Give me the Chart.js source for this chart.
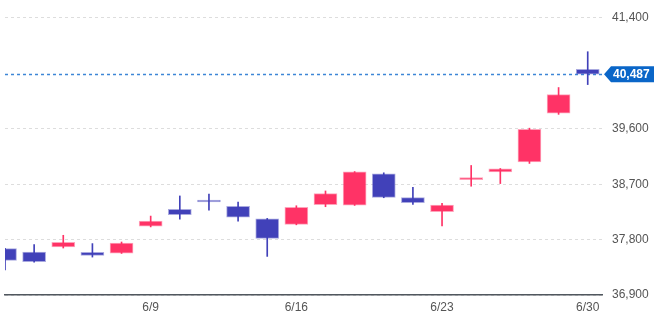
<!DOCTYPE html>
<html>
<head>
<meta charset="utf-8">
<script src="https://cdn.jsdelivr.net/npm/chart.js@4"></script>
<style>
  html, body { margin: 0; padding: 0; background: #fff; }
  #wrap { width: 662px; height: 316px; }
</style>
</head>
<body>
<div id="wrap"><canvas id="grafico"></canvas></div>
<script>
// datos diarios (junio)
const fechas = ["6/2","6/3","6/4","6/5","6/6","6/9","6/10","6/11","6/12","6/13","6/16","6/17","6/18","6/19","6/20","6/23","6/24","6/25","6/26","6/27","6/30"];
const aperturas = [37653,37597,37679,37592,37581,38018,38291,38443,38340,38137,38046,38366,38361,38869,38481,38252,38775,38901,39060,39855,40564];
const maximos  = [37660,37718,37870,37735,37761,38182,38509,38541,38410,38144,38350,38590,38905,38885,38651,38389,39004,38955,39610,40270,40852];
const minimos  = [37309,37435,37663,37516,37575,38006,38132,38280,38100,37527,38040,38334,38355,38480,38373,38023,38667,38710,39037,39834,40318];
const cierres  = [37462,37440,37756,37543,37745,38100,38203,38410,38165,37821,38324,38546,38901,38487,38399,38361,38803,38950,39593,40156,40487];
const ticksY = [36900, 37800, 38700, 39600, 41400];
const ticksX = [5, 10, 15, 20];

const ultimo = cierres[cierres.length - 1];
const ROJO = "#ff3366", AZUL = "#4141b9";
const colores = cierres.map((c, i) => c >= aperturas[i] ? ROJO : AZUL);
const bordes = cierres.map((c, i) => c >= aperturas[i] ? "rgba(255,51,102,0.45)" : "rgba(65,65,185,0.45)");

const cuerpos = fechas.map((f, i) => ({ x: i, y: [aperturas[i], cierres[i]] }));
const mechas = fechas.map((f, i) => ({ x: i, y: [minimos[i], maximos[i]] }));

// linea del ultimo precio + etiqueta
const lineaPrecio = {
  id: "lineaPrecio",
  beforeDatasetsDraw(chart) {
    const { ctx, chartArea, scales } = chart;
    const y = Math.round(scales.y.getPixelForValue(ultimo)) + 0.5;
    ctx.save();
    ctx.strokeStyle = "#3d86d6";
    ctx.lineWidth = 1.5;
    ctx.setLineDash([3, 3]);
    ctx.beginPath();
    ctx.moveTo(chartArea.left, y);
    ctx.lineTo(chartArea.right, y);
    ctx.stroke();
    ctx.restore();
  },
  afterDraw(chart) {
    const { ctx, chartArea, scales } = chart;
    const y = scales.y.getPixelForValue(ultimo);
    const x0 = chartArea.right + 2;
    ctx.save();
    ctx.fillStyle = "#0a66c8";
    ctx.beginPath();
    ctx.moveTo(x0, y);
    ctx.lineTo(x0 + 7, y - 8);
    ctx.lineTo(654, y - 8);
    ctx.lineTo(654, y + 8);
    ctx.lineTo(x0 + 7, y + 8);
    ctx.closePath();
    ctx.fill();
    ctx.fillStyle = "#fff";
    ctx.font = "bold 12px 'Liberation Sans', Arial, sans-serif";
    ctx.textAlign = "left";
    ctx.textBaseline = "middle";
    ctx.fillText(ultimo.toLocaleString("en-US"), 613, y + 0.5);
    ctx.restore();
  }
};

new Chart(document.getElementById("grafico"), {
  type: "bar",
  data: {
    datasets: [
      {
        data: cuerpos,
        backgroundColor: colores,
        borderColor: bordes,
        borderWidth: 1,
        borderSkipped: false,
        barThickness: 23,
        minBarLength: 2,
        grouped: false,
        order: 0
      },
      {
        data: mechas,
        backgroundColor: colores,
        borderWidth: 0,
        barThickness: 1,
        grouped: false,
        order: 1
      }
    ]
  },
  options: {
    responsive: true,
    maintainAspectRatio: false,
    animation: false,
    layout: { padding: { left: 5, top: 0, right: 0, bottom: 0 } },
    plugins: { legend: { display: false }, tooltip: { enabled: false } },
    scales: {
      x: {
        type: "linear",
        min: 0,
        max: 20.49,
        offset: false,
        grid: { display: false, drawTicks: false },
        border: { display: true, color: "#50575e", width: 1.5 },
        afterBuildTicks: s => { s.ticks = ticksX.map(v => ({ value: v })); },
        afterFit: s => { s.height = 21; },
        ticks: {
          autoSkip: false,
          maxRotation: 0,
          padding: 5,
          color: "#555",
          font: { size: 12, family: "'Liberation Sans', Arial, sans-serif" },
          callback: v => fechas[v]
        }
      },
      y: {
        position: "right",
        min: 36900,
        max: 41692,
        grid: { color: "#dddddd", drawTicks: false },
        border: { display: false, dash: [3, 3] },
        afterBuildTicks: s => { s.ticks = ticksY.map(v => ({ value: v })); },
        afterFit: s => { s.width = 60; s.paddingTop = 0; s.paddingBottom = 0; },
        ticks: {
          padding: 10,
          color: "#555",
          font: { size: 12, family: "'Liberation Sans', Arial, sans-serif" },
          callback: v => v.toLocaleString("en-US")
        }
      }
    }
  },
  plugins: [lineaPrecio]
});
</script>
</body>
</html>
